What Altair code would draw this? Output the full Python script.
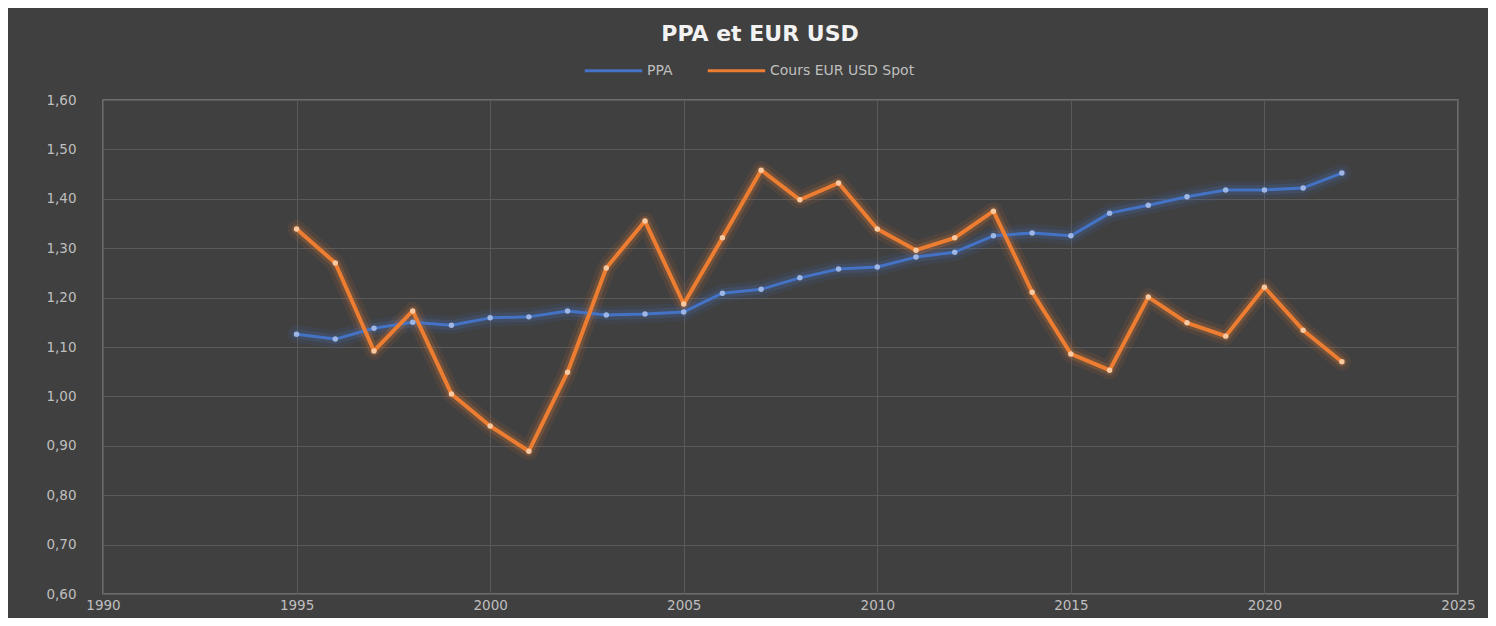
import altair as alt
import pandas as pd

years = list(range(1995, 2023))
ppa = [1.126, 1.116, 1.138, 1.150, 1.144, 1.159, 1.161, 1.173, 1.165, 1.167,
       1.171, 1.209, 1.217, 1.240, 1.258, 1.262, 1.282, 1.292, 1.325, 1.331,
       1.325, 1.371, 1.387, 1.404, 1.418, 1.418, 1.422, 1.452]
spot = [1.339, 1.270, 1.092, 1.173, 1.005, 0.940, 0.889, 1.049, 1.260, 1.355,
        1.187, 1.321, 1.458, 1.398, 1.432, 1.339, 1.296, 1.321, 1.375, 1.211,
        1.086, 1.053, 1.201, 1.149, 1.122, 1.221, 1.134, 1.070]
series_names = ["PPA", "Cours EUR USD Spot"]
series_colors = ["#4472C4", "#ED7D31"]
point_colors = ["#9DB6E6", "#F8C8A0"]
x_ticks = [1990, 1995, 2000, 2005, 2010, 2015, 2020, 2025]
y_ticks = [0.6, 0.7, 0.8, 0.9, 1.0, 1.1, 1.2, 1.3, 1.4, 1.5, 1.6]
chart_title = "PPA et EUR USD"

rows = []
for i, y in enumerate(years):
    rows.append({"year": y, "value": ppa[i], "serie": series_names[0]})
    rows.append({"year": y, "value": spot[i], "serie": series_names[1]})
df = pd.DataFrame(rows)

FONT = "DejaVu Sans"
LBL = "#bfbfbf"

x = alt.X("year:Q", scale=alt.Scale(domain=[1990, 2025], nice=False, zero=False),
          axis=alt.Axis(values=x_ticks, format="d", title=None, domain=False, ticks=False,
                        grid=True, gridColor="#5a5a5a", gridWidth=1,
                        labelColor=LBL, labelFont=FONT, labelFontSize=13.5,
                        labelPadding=4, labelFlush=False))
y = alt.Y("value:Q", scale=alt.Scale(domain=[0.6, 1.6], nice=False, zero=False),
          axis=alt.Axis(values=y_ticks, title=None, domain=False, ticks=False,
                        grid=True, gridColor="#5a5a5a", gridWidth=1,
                        labelExpr="replace(format(datum.value, '.2f'), '.', ',')",
                        labelColor=LBL, labelFont=FONT, labelFontSize=13.5,
                        labelPadding=27))
color_scale = alt.Scale(domain=series_names, range=series_colors)
pt_scale = alt.Scale(domain=series_names, range=point_colors)

base = alt.Chart(df)

glow1 = base.mark_line(strokeWidth=18, opacity=0.09, strokeJoin="round", strokeCap="round").encode(
    x=x, y=y, color=alt.Color("serie:N", scale=color_scale, legend=None), detail="serie:N")
glow2 = base.mark_line(strokeWidth=10, opacity=0.20, strokeJoin="round", strokeCap="round").encode(
    x=x, y=y, color=alt.Color("serie:N", scale=color_scale, legend=None), detail="serie:N")
lines = base.mark_line(strokeJoin="round").encode(
    x=x, y=y,
    color=alt.Color("serie:N", scale=color_scale, sort=series_names,
                    legend=alt.Legend(title=None, orient="none", legendX=480, legendY=-60,
                                      direction="horizontal", symbolType="stroke",
                                      symbolSize=3300, symbolStrokeWidth=3,
                                      labelColor=LBL, labelFont=FONT, labelFontSize=14,
                                      columnPadding=28, labelOffset=3)),
    strokeWidth=alt.StrokeWidth("serie:N", scale=alt.Scale(domain=series_names, range=[3, 4]),
                                legend=None))
points = base.mark_circle(size=30, opacity=1).encode(
    x=x, y=y, color=alt.Color("serie:N", scale=pt_scale, legend=None))

title_df = pd.DataFrame({"t": [chart_title]})
title = alt.Chart(title_df).mark_text(font=FONT, fontSize=22, fontWeight="bold", color="#f2f2f2",
                                      align="center", baseline="middle").encode(
    x=alt.value(657), y=alt.value(-66), text="t:N")

chart = alt.layer(glow1, glow2, lines, points, title).resolve_scale(color="independent").properties(
    width=1355, height=494,
    autosize=alt.AutoSizeParams(type="none"),
    padding={"left": 95, "top": 92, "right": 30, "bottom": 24},
    background="#404040",
).configure_view(stroke="#7a7a7a", strokeWidth=1.5)

chart.save("out.html", embed_options={"renderer": "svg", "actions": False})
